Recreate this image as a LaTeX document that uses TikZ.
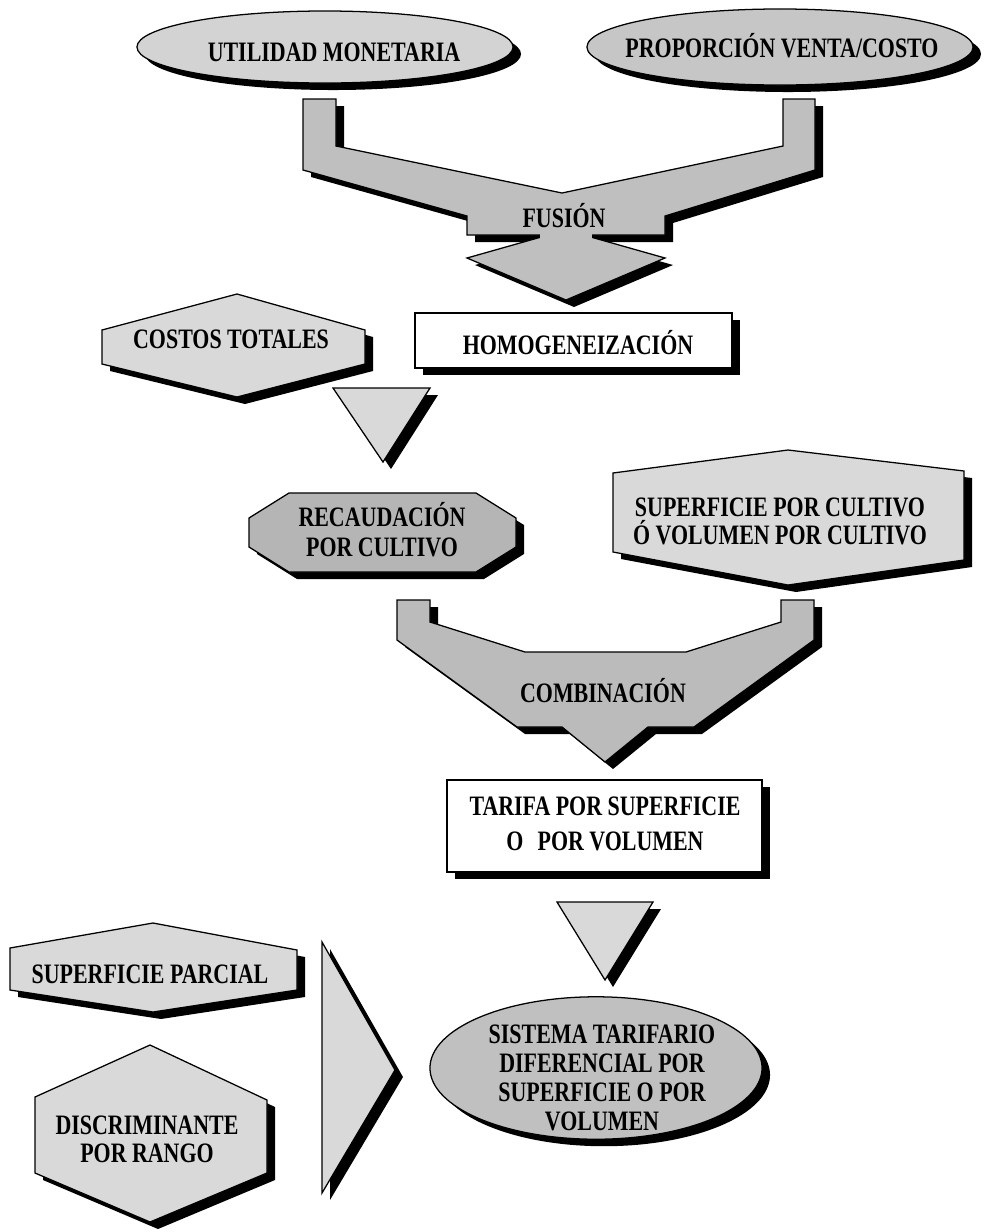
\documentclass[tikz,border=0pt]{standalone}
\usepackage{fontspec}
\setmainfont{Liberation Serif}[FakeStretch=0.78,BoldFeatures={FakeStretch=0.78}]
\definecolor{cU}{HTML}{D3D3D3}
\definecolor{cP}{HTML}{C6C6C6}
\definecolor{cF}{HTML}{BFBFBF}
\definecolor{cL}{HTML}{D9D9D9}
\definecolor{cR}{HTML}{B5B5B5}
\definecolor{cC}{HTML}{BBBBBB}
\definecolor{cS}{HTML}{C0C0C0}
\newcommand\shadowed[2]{\fill[black,shift={(8,7)}] #2; \filldraw[fill=#1,blk] #2;}
\begin{document}
\begin{tikzpicture}[x=0.025cm,y=-0.025cm,
  blk/.style={draw=black,line width=0.9pt,line join=miter},
  lbl/.style={align=center,font=\fontsize{20}{21}\selectfont\bfseries,inner sep=0pt}]
\useasboundingbox (0,0) rectangle (987,1232);
\fill[white] (0,0) rectangle (987,1232);

% top ellipses
\shadowed{cU}{(325,47) ellipse [x radius=4.7cm, y radius=0.9cm]}
\shadowed{cP}{(780,47) ellipse [x radius=4.825cm, y radius=0.95cm]}
\node[lbl] (util) at (334,52) {UTILIDAD MONETARIA};
\node[lbl] (prop) at (782,46) {PROPORCIÓN VENTA/COSTO};

% fusion block arrow
\fill[black,shift={(8,7)}] (303,99)--(336,99)--(336,146)--(562,193)--(783,146)--(783,99)--(815,99)--(815,170)--(665,216)--(665,235)--(467,235)--(467,216)--(303,170)--cycle;
\fill[black,shift={(8,7)}] (467,258)--(566,230)--(665,258)--(566,300)--cycle;
\filldraw[fill=cF,blk] (467,258)--(566,230)--(665,258)--(566,300)--cycle;
\filldraw[fill=cF,blk] (303,99)--(336,99)--(336,146)--(562,193)--(783,146)--(783,99)--(815,99)--(815,170)--(665,216)--(665,235)--(467,235)--(467,216)--(303,170)--cycle;
\fill[cF] (540,233) rectangle (592,238);
\node[lbl] (fus) at (564,216) {FUSIÓN};

% costos totales
\shadowed{cL}{(102,330)--(237,294)--(365,330)--(365,364)--(237,397)--(102,364)--cycle}
\node[lbl] (cost) at (231,339) {COSTOS TOTALES};

% homogeneizacion
\shadowed{white}{(415,313) rectangle (732,368)}
\node[lbl] (homo) at (578,343) {HOMOGENEIZACIÓN};

% triangle 1
\shadowed{cL}{(333,388)--(430,388)--(383,462)--cycle}

% recaudacion
\shadowed{cR}{(289,493)--(476,493)--(516,518)--(516,547)--(476,572)--(289,572)--(249,547)--(249,518)--cycle}
\node[lbl,font=\fontsize{20}{21.3}\selectfont\bfseries] (recau) at (382,530) {RECAUDACIÓN\\POR CULTIVO};

% superficie por cultivo
\shadowed{cL}{(613,473)--(788,450)--(964,471)--(964,560)--(788,585)--(613,552)--cycle}
\node[lbl,font=\fontsize{20}{20}\selectfont\bfseries] (supc) at (780,521) {SUPERFICIE POR CULTIVO\\Ó VOLUMEN POR CULTIVO};

% combinacion block arrow
\shadowed{cC}{(397,600)--(430,600)--(430,622)--(525,652)--(686,652)--(781,622)--(781,600)--(814,600)--(814,640)--(694,727)--(648,727)--(605,762)--(562,727)--(517,727)--(397,640)--cycle}
\node[lbl] (comb) at (603,691) {COMBINACIÓN};

% tarifa
\shadowed{white}{(447,780) rectangle (762,872)}
\node[lbl,font=\fontsize{20}{25}\selectfont\bfseries] (tarifa) at (605,824) {TARIFA POR SUPERFICIE\\O\enspace POR VOLUMEN};

% triangle 2
\shadowed{cL}{(557,902)--(653,902)--(605,980)--cycle}

% sistema tarifario
\shadowed{cS}{(596,1068) ellipse [x radius=4.15cm, y radius=1.78cm]}
\node[lbl,font=\fontsize{20}{20.6}\selectfont\bfseries] (sist) at (602,1078) {SISTEMA TARIFARIO\\DIFERENCIAL POR\\SUPERFICIE O POR\\VOLUMEN};

% superficie parcial
\shadowed{cL}{(10,948)--(153,923)--(297,950)--(297,990)--(153,1012)--(10,990)--cycle}
\node[lbl] (supp) at (150,974) {SUPERFICIE PARCIAL};

% discriminante
\shadowed{cL}{(35,1097)--(150,1045)--(267,1100)--(267,1173)--(150,1222)--(35,1173)--cycle}
\node[lbl,font=\fontsize{20}{20}\selectfont\bfseries] (disc) at (147,1139) {DISCRIMINANTE\\POR RANGO};

% big triangle
\shadowed{cL}{(322,942)--(395,1070)--(322,1193)--cycle}
\end{tikzpicture}
\end{document}
